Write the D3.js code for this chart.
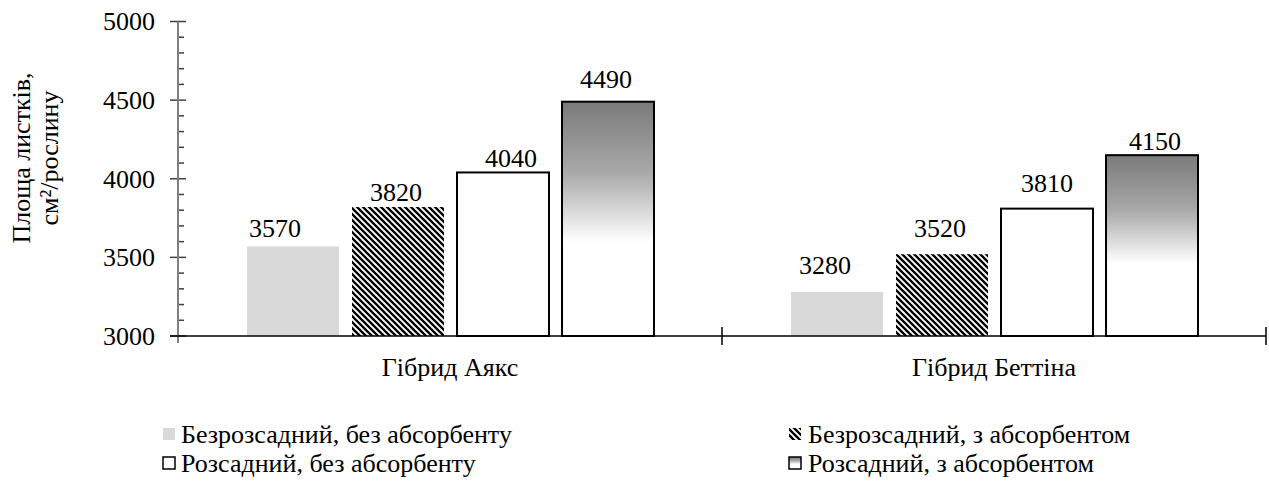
<!DOCTYPE html>
<html>
<head>
  <meta charset="UTF-8">
  <script src="https://d3js.org/d3.v7.min.js"></script>
</head>
<body style="margin:0">
  <svg width="1269" height="485" font-family="Liberation Serif" style="font-family: 'Liberation Serif', serif;"></svg>

  <script>
    // data
    const categories = ["Гібрид Аякс", "Гібрид Беттіна"];
    const seriesNames = [
      "Безрозсадний, без абсорбенту",
      "Безрозсадний, з абсорбентом",
      "Розсадний, без абсорбенту",
      "Розсадний, з абсорбентом"
    ];
    const seriesValues = [
      [3570, 3280],
      [3820, 3520],
      [4040, 3810],
      [4490, 4150]
    ];
    const yTicks = [3000, 3500, 4000, 4500, 5000];
    const yMinorTicks = d3.range(3100, 5000, 100).filter(v => v % 500 !== 0);

    // hand placed value labels in the original (dx, dy from bar top)
    const labelNudge = [
      [[-18, -9], [-12, -18]],
      [[-2, -6], [-2, -17]],
      [[8, -5], [0, -17]],
      [[-2, -14], [3, -5]]
    ];

    const FS = 26;

    const svg = d3.select("svg");
    const defs = svg.append("defs");

    const hatch = defs.append("pattern")
      .attr("id", "hatch")
      .attr("patternUnits", "userSpaceOnUse")
      .attr("width", 6)
      .attr("height", 6);
    hatch.append("rect").attr("width", 6).attr("height", 6).attr("fill", "#fff");
    hatch.append("path")
      .attr("d", "M-1,-1L7,7M-1,5L1,7M5,-1L7,1")
      .attr("stroke", "#000")
      .attr("stroke-width", 2.3);

    const grad = defs.append("linearGradient")
      .attr("id", "grad")
      .attr("x1", 0).attr("y1", 0).attr("x2", 0).attr("y2", 1);
    grad.append("stop").attr("offset", "0%").attr("stop-color", "#7a7a7a");
    grad.append("stop").attr("offset", "30%").attr("stop-color", "#a8a8a8");
    grad.append("stop").attr("offset", "60%").attr("stop-color", "#ffffff");
    grad.append("stop").attr("offset", "100%").attr("stop-color", "#ffffff");

    const fills = ["#d9d9d9", "url(#hatch)", "#ffffff", "url(#grad)"];
    const strokes = ["none", "none", "#000", "#000"];

    const y = d3.scaleLinear().domain([3000, 5000]).range([336, 21.5]);

    const x0 = d3.scaleBand().domain(categories).range([178, 1266]);
    const x1 = d3.scaleBand()
      .domain(d3.range(seriesNames.length))
      .range([69, x0.bandwidth() - 68])
      .paddingInner(0.124);

    // bars
    seriesValues.forEach((vals, s) => {
      svg.append("g").selectAll("rect")
        .data(vals)
        .enter()
        .append("rect")
        .attr("x", (d, i) => x0(categories[i]) + x1(s))
        .attr("y", d => y(d))
        .attr("width", x1.bandwidth())
        .attr("height", d => y(3000) - y(d))
        .attr("fill", fills[s])
        .attr("stroke", strokes[s])
        .attr("stroke-width", 2);

      svg.append("g").selectAll("text")
        .data(vals)
        .enter()
        .append("text")
        .attr("font-family", "Liberation Serif")
        .attr("font-size", FS)
        .attr("x", (d, i) => x0(categories[i]) + x1(s) + x1.bandwidth() / 2 + labelNudge[s][i][0])
        .attr("y", (d, i) => y(d) + labelNudge[s][i][1])
        .attr("text-anchor", "middle")
        .text(d => d);
    });

    // y axis: major ticks cross, minor ticks inside
    svg.append("g").selectAll("line")
      .data(yTicks)
      .enter()
      .append("line")
      .attr("x1", 170).attr("x2", 186)
      .attr("y1", d => y(d)).attr("y2", d => y(d))
      .attr("stroke", "#404040").attr("stroke-width", 1.5);

    svg.append("g").selectAll("line")
      .data(yMinorTicks)
      .enter()
      .append("line")
      .attr("x1", 178).attr("x2", 184)
      .attr("y1", d => y(d)).attr("y2", d => y(d))
      .attr("stroke", "#404040").attr("stroke-width", 1.5);

    svg.append("g").selectAll("text")
      .data(yTicks)
      .enter()
      .append("text")
      .attr("font-family", "Liberation Serif")
      .attr("font-size", FS)
      .attr("x", 155)
      .attr("y", d => y(d))
      .attr("dy", "0.34em")
      .attr("text-anchor", "end")
      .text(d => d);

    svg.append("line")
      .attr("x1", 178).attr("x2", 178)
      .attr("y1", y(5000)).attr("y2", 343)
      .attr("stroke", "#7f7f7f").attr("stroke-width", 2);

    // x axis
    svg.append("line")
      .attr("x1", 170).attr("x2", x0.range()[1])
      .attr("y1", y(3000)).attr("y2", y(3000))
      .attr("stroke", "#000").attr("stroke-width", 1.5);

    svg.append("g").selectAll("line")
      .data(categories)
      .enter()
      .append("line")
      .attr("x1", d => x0(d) + x0.bandwidth())
      .attr("x2", d => x0(d) + x0.bandwidth())
      .attr("y1", y(3000) - 9)
      .attr("y2", y(3000) + 9)
      .attr("stroke", "#000")
      .attr("stroke-width", 1.5);

    svg.append("g").selectAll("text")
      .data(categories)
      .enter()
      .append("text")
      .attr("font-family", "Liberation Serif")
      .attr("font-size", FS)
      .attr("x", d => x0(d) + x0.bandwidth() / 2)
      .attr("y", 376)
      .attr("text-anchor", "middle")
      .text(d => d);

    // y axis title
    const title = ["Площа листків,", "см²/рослину"];
    svg.append("g").selectAll("text")
      .data(title)
      .enter()
      .append("text")
      .attr("font-family", "Liberation Serif")
      .attr("font-size", FS)
      .attr("transform", (d, i) => `translate(${30 + i * 28},158) rotate(-90)`)
      .attr("text-anchor", "middle")
      .text(d => d);

    // legend
    const legendPos = [[162, 443], [788, 443], [162, 472], [788, 472]];
    seriesNames.forEach((name, s) => {
      const [lx, ly] = legendPos[s];
      svg.append("rect")
        .attr("x", lx + 1)
        .attr("y", ly - 15)
        .attr("width", 12)
        .attr("height", 12)
        .attr("fill", fills[s])
        .attr("stroke", strokes[s])
        .attr("stroke-width", 1.5);
      svg.append("text")
        .attr("font-family", "Liberation Serif")
        .attr("font-size", FS)
        .attr("x", lx + (s % 2 ? 20 : 19))
        .attr("y", ly)
        .text(name);
    });
  </script>
</body>
</html>
